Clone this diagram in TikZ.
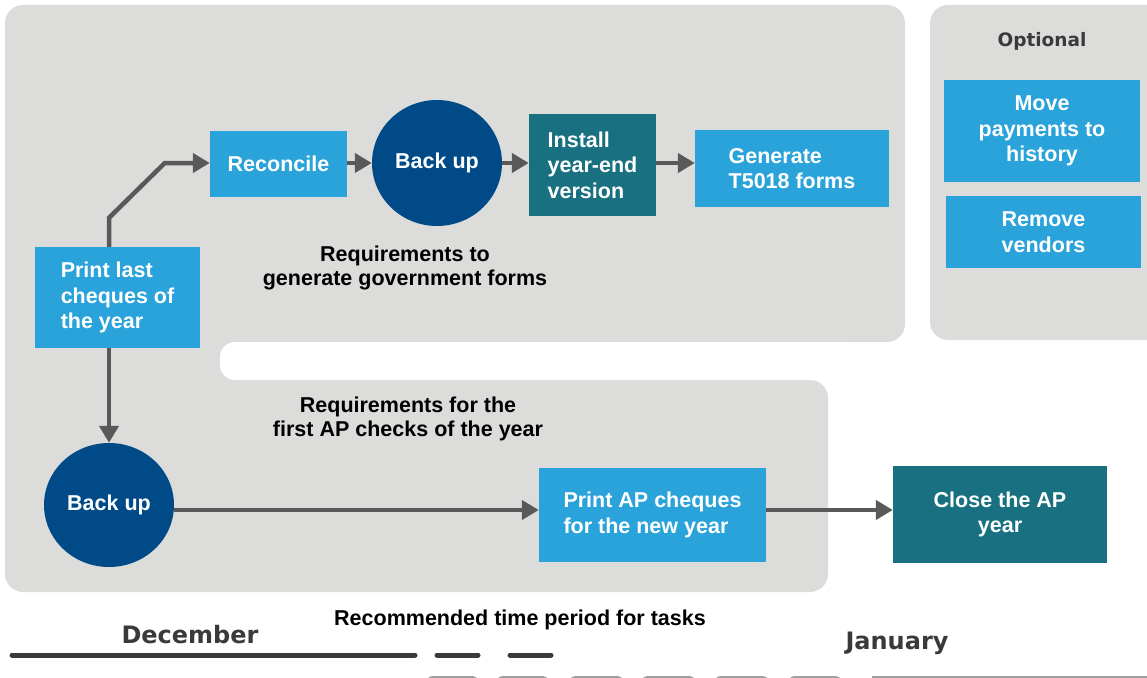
\documentclass[tikz,border=0pt]{standalone}
\usepackage{fontspec}
\setmainfont{Liberation Sans}
\newfontfamily\dejavu{DejaVu Sans}
\usetikzlibrary{arrows.meta,shapes.geometric}
\definecolor{panel}{HTML}{DCDCDA}
\definecolor{lblue}{HTML}{29A3DA}
\definecolor{dblue}{HTML}{004B87}
\definecolor{teal2}{HTML}{187080}
\definecolor{arrowc}{HTML}{595959}
\definecolor{monthc}{HTML}{3A3A3A}
\begin{document}
\begin{tikzpicture}[x=1pt,y=-1pt,
  box/.style={fill=lblue,text=white,font=\fontsize{21.5}{25.5}\selectfont\bfseries,align=center,inner sep=0pt},
  tbox/.style={box,fill=teal2},
  oval/.style={ellipse,fill=dblue,text=white,font=\fontsize{21.5}{25.5}\selectfont\bfseries,inner sep=0pt},
  flow/.style={draw=arrowc,line width=4.5pt,-{Triangle[length=17pt,width=19pt]}},
  captext/.style={font=\fontsize{21.5}{24.5}\selectfont\bfseries,align=center,text=black},
  month/.style={font=\dejavu\fontsize{24}{28}\selectfont\bfseries,text=monthc},
  tl/.style={line width=5pt,draw=monthc,line cap=round},
  tl2/.style={line width=10pt,draw=gray!75,line cap=round}]
\useasboundingbox (0,0) rectangle (1147,677);
\clip (0,0) rectangle (1147,677);
% panels
\fill[panel,rounded corners=18pt] (5,5) rectangle (905,342);
\fill[panel,rounded corners=18pt] (5,380) rectangle (828,592);
\fill[panel] (5,320) rectangle (240,400);
\fill[white,rounded corners=15pt] (220,342) rectangle (860,380);
\fill[panel,rounded corners=18pt] (930,5) rectangle (1175,340);
% optional
\node[font=\dejavu\fontsize{18.5}{22}\selectfont\bfseries,text=monthc] (opt) at (1042,41) {Optional};
\node[box,minimum width=196pt,minimum height=102pt] (move) at (1042,131) {Move\\payments to\\history};
\node[box,minimum width=195pt,minimum height=72pt] (remove) at (1043.5,232) {Remove\\vendors};
% top row
\node[box,minimum width=165pt,minimum height=101pt,align=left] (print) at (117.5,297.5) {Print last\\cheques of\\the year};
\node[box,minimum width=137pt,minimum height=66pt] (reconcile) at (278.5,164) {Reconcile};
\node[oval,minimum width=130pt,minimum height=126pt] (backup) at (437,163) {Back up};
\node[tbox,minimum width=127pt,minimum height=102pt,align=left] (install) at (592.5,165) {Install\\year-end\\version};
\node[box,minimum width=194pt,minimum height=77pt,align=left] (generate) at (792,168.5) {Generate\\T5018 forms};
\node[captext] (req1) at (405,268) {Requirements to\\generate government forms};
% bottom row
\node[oval,minimum width=130pt,minimum height=124pt] (backup2) at (109,505) {Back up};
\node[box,minimum width=227pt,minimum height=94pt,align=left] (printap) at (652.5,515) {Print AP cheques\\for the new year};
\node[tbox,minimum width=214pt,minimum height=97pt] (close) at (1000,514.5) {Close the AP\\year};
\node[captext] (req2) at (408,419) {Requirements for the\\first AP checks of the year};
% connectors
\coordinate (pn) at (print.north -| backup2.north);
\coordinate (ps) at (print.south -| backup2.north);
\draw[flow] (pn) -- ++(0,-29) -- ([xshift=-45pt,yshift=1pt]reconcile.west) -- ([yshift=1pt]reconcile.west);
\draw[flow] ([yshift=1pt]reconcile.east) -- ([yshift=1pt]reconcile.east -| backup.west);
\draw[flow] (backup.east) -- (backup.east -| install.west);
\draw[flow] ([yshift=2pt]install.east) -- ([yshift=2pt]install.east -| generate.west);
\draw[flow] (ps) -- (backup2.north);
\coordinate (apin) at ([yshift=5pt]printap.west);
\draw[flow] (backup2.east |- apin) -- (apin);
\coordinate (apout) at ([yshift=5pt]printap.east);
\draw[flow] (apout) -- (apout -| close.west);
% timeline
\node[month] (dec) at (190,635) {December};
\node[month] (jan) at (897,643) {January};
\node[captext] (rec) at (520,620) {Recommended time period for tasks};
\draw[tl] (12,655) -- (415,655);
\draw[tl] (437,655) -- (478,655);
\draw[tl] (510,655) -- (551,655);
\foreach \a/\b in {432/473,502/543,575/618,647/690,720/763,794/836}
  \draw[tl2] (\a,681) -- (\b,681);
\draw[line width=10pt,draw=gray!75] (872,681) -- (1150,681);
\end{tikzpicture}
\end{document}
